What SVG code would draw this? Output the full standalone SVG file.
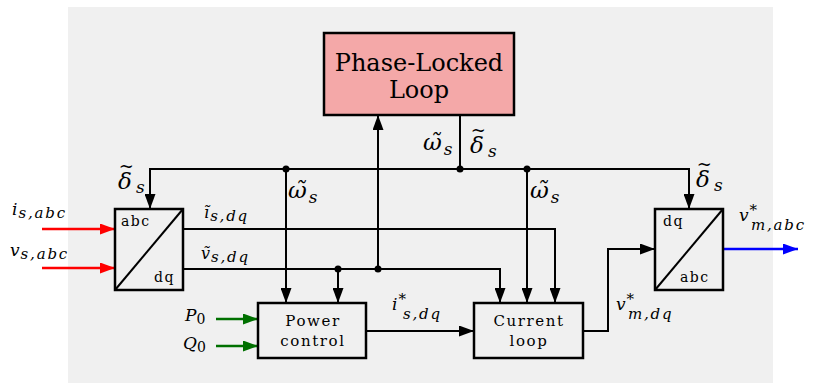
<svg xmlns="http://www.w3.org/2000/svg" width="813" height="383" viewBox="0 0 813 383">
<style>
.box{fill:none;stroke:#000;stroke-width:2.5}
.w{fill:none;stroke:#000;stroke-width:2}
text{font-family:'DejaVu Serif','Liberation Serif',serif;fill:#000}
.m{font-style:italic}
.up{font-size:14px;letter-spacing:1.5px}
.bl{font-size:15px;letter-spacing:1.6px}
.sub{letter-spacing:1.8px}
.tl{font-style:normal}
</style>
<defs>
<marker id="ak" viewBox="0 0 15 11" refX="15" refY="5.5" markerWidth="15" markerHeight="11" markerUnits="userSpaceOnUse" orient="auto"><path d="M0,0L15,5.5L0,11z" fill="#000"/></marker>
<marker id="ar" viewBox="0 0 15 11" refX="15" refY="5.5" markerWidth="15" markerHeight="11" markerUnits="userSpaceOnUse" orient="auto"><path d="M0,0L15,5.5L0,11z" fill="#ff0000"/></marker>
<marker id="ag" viewBox="0 0 15 11" refX="15" refY="5.5" markerWidth="15" markerHeight="11" markerUnits="userSpaceOnUse" orient="auto"><path d="M0,0L15,5.5L0,11z" fill="#007000"/></marker>
<marker id="ab" viewBox="0 0 15 11" refX="15" refY="5.5" markerWidth="15" markerHeight="11" markerUnits="userSpaceOnUse" orient="auto"><path d="M0,0L15,5.5L0,11z" fill="#0000ff"/></marker>
</defs>
<rect x="68" y="7" width="705" height="376" fill="#f0f0f0"/>

<g id="connectors">
<path class="w" d="M460,115V169"/>
<path class="w" d="M460,169H150V209" marker-end="url(#ak)"/>
<path class="w" d="M460,169H689V209" marker-end="url(#ak)"/>
<path class="w" d="M286,169V303" marker-end="url(#ak)"/>
<path class="w" d="M527,169V303" marker-end="url(#ak)"/>
<path class="w" d="M183,229H555V303" marker-end="url(#ak)"/>
<path class="w" d="M183,269H500V303" marker-end="url(#ak)"/>
<path class="w" d="M378,269V115" marker-end="url(#ak)"/>
<path class="w" d="M338,269V303" marker-end="url(#ak)"/>
<path class="w" d="M366,331H474" marker-end="url(#ak)"/>
<path class="w" d="M583,331H608V249H655" marker-end="url(#ak)"/>
<path d="M42,229H115" stroke="#ff0000" stroke-width="2.5" fill="none" marker-end="url(#ar)"/>
<path d="M42,268H115" stroke="#ff0000" stroke-width="2.5" fill="none" marker-end="url(#ar)"/>
<path d="M216,319H258" stroke="#007000" stroke-width="2.5" fill="none" marker-end="url(#ag)"/>
<path d="M216,346H258" stroke="#007000" stroke-width="2.5" fill="none" marker-end="url(#ag)"/>
<path d="M723,249H798" stroke="#0000ff" stroke-width="2.5" fill="none" marker-end="url(#ab)"/>
<circle cx="286" cy="169" r="3.5"/>
<circle cx="460" cy="169" r="3.5"/>
<circle cx="527" cy="169" r="3.5"/>
<circle cx="338" cy="269" r="3.5"/>
<circle cx="378" cy="269" r="3.5"/>
</g>

<g id="pll">
<rect x="324" y="33" width="190" height="82" fill="#f4a8a8" stroke="#000" stroke-width="2.5"/>
<text x="419" y="71" font-size="24" text-anchor="middle">Phase-Locked</text>
<text x="419" y="98" font-size="24" text-anchor="middle">Loop</text>
</g>

<g id="abc2dq">
<rect class="box" x="115" y="209" width="68" height="81"/>
<path class="w" d="M115,290L183,209"/>
<text class="up" x="121" y="226">abc</text>
<text class="up" x="154" y="282">dq</text>
</g>

<g id="dq2abc">
<rect class="box" x="655" y="209" width="68" height="81"/>
<path class="w" d="M655,290L723,209"/>
<text class="up" x="663" y="226">dq</text>
<text class="up" x="680" y="282">abc</text>
</g>

<g id="power">
<rect class="box" x="258" y="303" width="108" height="55"/>
<text class="bl" x="313" y="326" text-anchor="middle">Power</text>
<text class="bl" x="313" y="346" text-anchor="middle">control</text>
</g>

<g id="current">
<rect class="box" x="474" y="303" width="109" height="55"/>
<text class="bl" x="529" y="326" text-anchor="middle">Current</text>
<text class="bl" x="529" y="346" text-anchor="middle">loop</text>
</g>

<g id="labels">
<text class="m" x="12" y="215" font-size="17">i<tspan class="sub" font-size="15" dy="3" dx="1">s,abc</tspan></text>
<text class="m" x="10" y="256" font-size="17">v<tspan class="sub" font-size="15" dy="3" dx="1">s,abc</tspan></text>

<text class="m" x="118" y="189" font-size="23">δ<tspan class="tl" font-size="18" dx="-13" dy="-17">~</tspan><tspan font-size="17" dx="2" dy="21">s</tspan></text>
<text class="m" x="204" y="218" font-size="16">ĩ<tspan class="sub" font-size="15" dx="1" dy="3">s,dq</tspan></text>
<text class="m" x="201" y="259" font-size="16">ṽ<tspan class="sub" font-size="15" dx="1" dy="3">s,dq</tspan></text>

<text class="m" x="288" y="198" font-size="23">ω̃<tspan font-size="17" dx="2" dy="5">s</tspan></text>
<text class="m" x="530" y="198" font-size="23">ω̃<tspan font-size="17" dx="2" dy="5">s</tspan></text>
<text class="m" x="423" y="150" font-size="23">ω̃<tspan font-size="17" dx="2" dy="5">s</tspan></text>
<text class="m" x="470" y="153" font-size="23">δ<tspan class="tl" font-size="18" dx="-13" dy="-17">~</tspan><tspan font-size="17" dx="2" dy="21">s</tspan></text>
<text class="m" x="696" y="187" font-size="23">δ<tspan class="tl" font-size="18" dx="-13" dy="-17">~</tspan><tspan font-size="17" dx="2" dy="21">s</tspan></text>

<text class="m" x="392" y="310" font-size="17">i<tspan font-size="15" dy="-6" dx="1">*</tspan><tspan class="sub" font-size="15" x="403" dy="15">s,dq</tspan></text>
<text class="m" x="616" y="310" font-size="17">v<tspan font-size="15" dy="-6" dx="1">*</tspan><tspan class="sub" font-size="15" x="628" dy="15">m,dq</tspan></text>
<text class="m" x="739" y="221" font-size="17">v<tspan font-size="15" dy="-6" dx="1">*</tspan><tspan class="sub" font-size="15" x="751" dy="15">m,abc</tspan></text>

<text class="m" x="185" y="321" font-size="17">P<tspan font-size="14" dy="3" font-style="normal">0</tspan></text>
<text class="m" x="183" y="349" font-size="17">Q<tspan font-size="14" dy="3" font-style="normal">0</tspan></text>
</g>
</svg>
